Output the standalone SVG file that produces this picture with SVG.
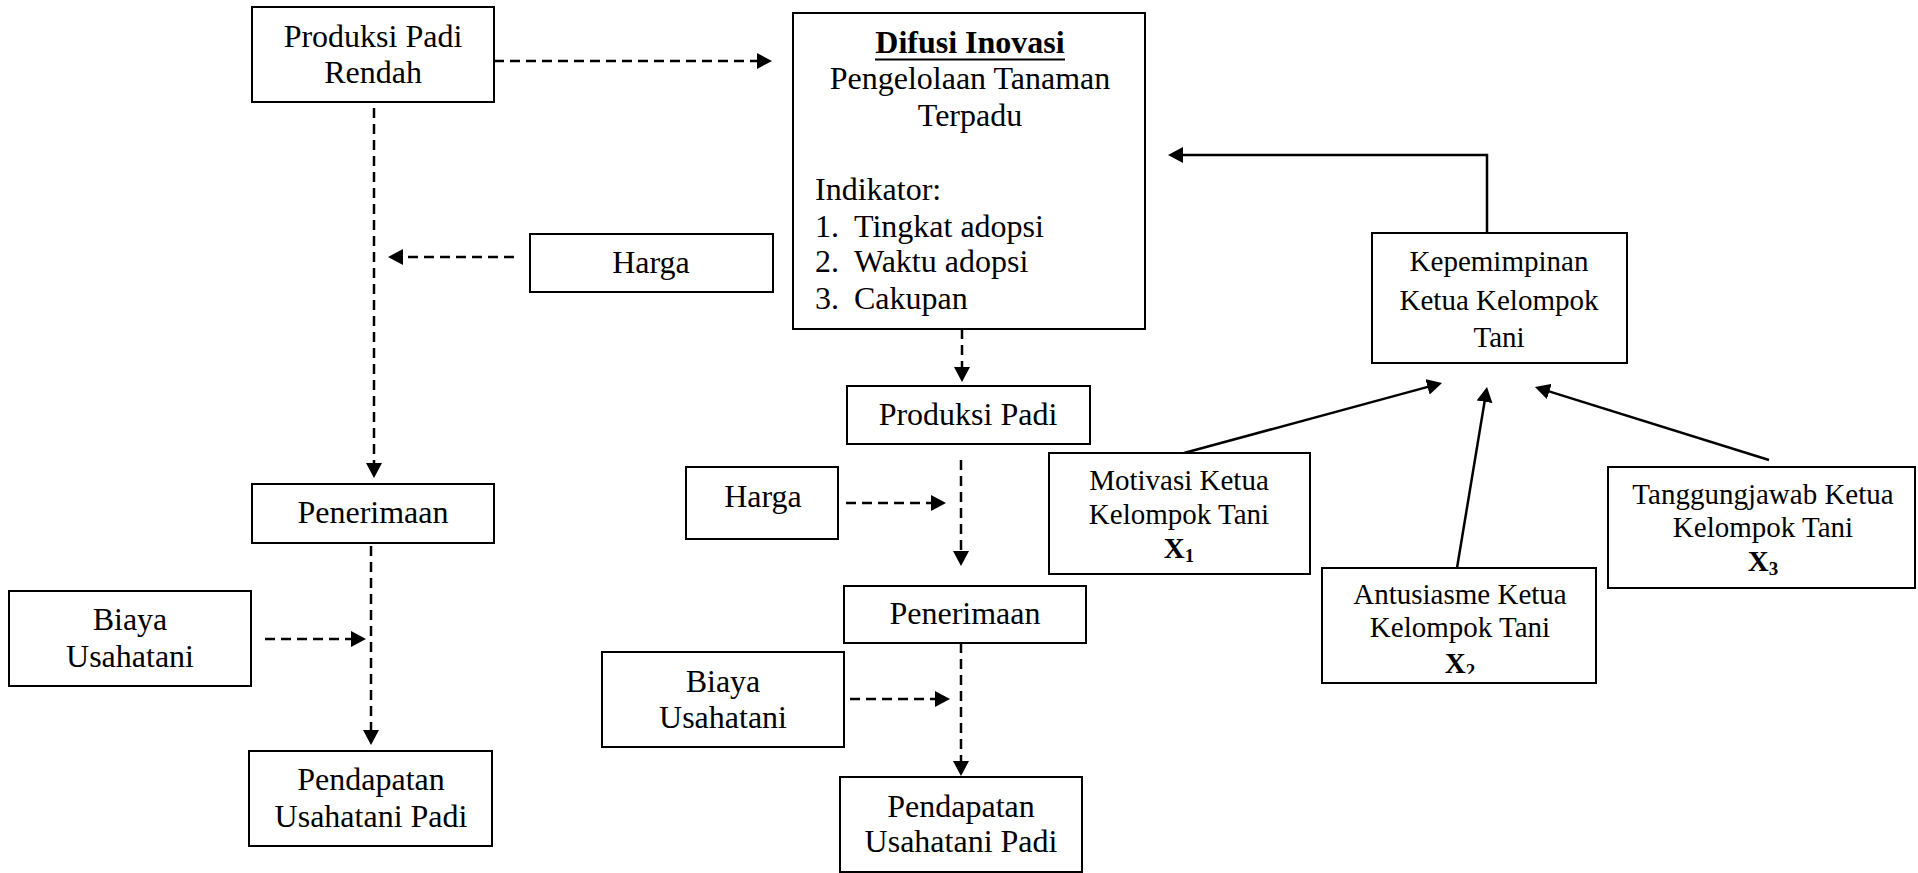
<svg xmlns="http://www.w3.org/2000/svg" width="1918" height="873" viewBox="0 0 1918 873">
  <style>
    .box { fill: #ffffff; stroke: #000000; stroke-width: 2; }
    .t { font-family: "Liberation Serif", "Times New Roman", serif; fill: #000000; }
    .l { font-size: 32px; text-anchor: middle; }
    .s { font-size: 29px; text-anchor: middle; }
    .list { font-size: 32px; }
    .dash { fill: none; stroke: #000000; stroke-width: 2.5; stroke-dasharray: 10 6; }
    .solid { fill: none; stroke: #000000; stroke-width: 2.5; }
    .b { font-weight: bold; }
  </style>
  <defs>
    <marker id="arrow" viewBox="0 0 15 16" refX="7" refY="8" markerWidth="15" markerHeight="16" orient="auto" markerUnits="userSpaceOnUse">
      <path d="M0,0 L15,8 L0,16 Z" fill="#000000"/>
    </marker>
    <clipPath id="clipX2">
      <rect x="1322" y="568" width="274" height="106"/>
    </clipPath>
  </defs>
  <rect x="0" y="0" width="1918" height="873" fill="#ffffff"/>

  <g id="connectors">
    <path class="dash" d="M494,61 H764" marker-end="url(#arrow)"/>
    <path class="dash" d="M374,108 V470" marker-end="url(#arrow)"/>
    <path class="dash" d="M514,257 H396" marker-end="url(#arrow)"/>
    <path class="dash" d="M371,546 V737" marker-end="url(#arrow)"/>
    <path class="dash" d="M265,639 H358" marker-end="url(#arrow)"/>
    <path class="dash" d="M962,329 V374" marker-end="url(#arrow)"/>
    <path class="dash" d="M961,460 V558" marker-end="url(#arrow)"/>
    <path class="dash" d="M846,503 H938" marker-end="url(#arrow)"/>
    <path class="dash" d="M961,643 V768" marker-end="url(#arrow)"/>
    <path class="dash" d="M850,699 H942" marker-end="url(#arrow)"/>
    <path class="solid" d="M1487,233 V155 H1176" marker-end="url(#arrow)"/>
    <path class="solid" d="M1184,453 L1434.3,385.1" marker-end="url(#arrow)"/>
    <path class="solid" d="M1457,568 L1485.7,394.9" marker-end="url(#arrow)"/>
    <path class="solid" d="M1769,460 L1542.6,389.4" marker-end="url(#arrow)"/>
  </g>

  <g id="produksi-padi-rendah">
    <rect class="box" x="252" y="7" width="242" height="95"/>
    <text class="t l" x="373" y="47">Produksi Padi</text>
    <text class="t l" x="373" y="83">Rendah</text>
  </g>

  <g id="harga-kiri">
    <rect class="box" x="530" y="234" width="243" height="58"/>
    <text class="t l" x="651" y="273">Harga</text>
  </g>

  <g id="penerimaan-kiri">
    <rect class="box" x="252" y="484" width="242" height="59"/>
    <text class="t l" x="373" y="523">Penerimaan</text>
  </g>

  <g id="biaya-kiri">
    <rect class="box" x="9" y="591" width="242" height="95"/>
    <text class="t l" x="130" y="630">Biaya</text>
    <text class="t l" x="130" y="667">Usahatani</text>
  </g>

  <g id="pendapatan-kiri">
    <rect class="box" x="249" y="751" width="243" height="95"/>
    <text class="t l" x="371" y="790">Pendapatan</text>
    <text class="t l" x="371" y="827">Usahatani Padi</text>
  </g>

  <g id="difusi-inovasi">
    <rect class="box" x="793" y="13" width="352" height="316"/>
    <text class="t l b" x="970" y="53">Difusi Inovasi</text>
    <line x1="875" y1="59.5" x2="1065" y2="59.5" stroke="#000000" stroke-width="2"/>
    <text class="t l" x="970" y="89">Pengelolaan Tanaman</text>
    <text class="t l" x="970" y="126">Terpadu</text>
    <text class="t list" x="815" y="200">Indikator:</text>
    <text class="t list" x="815" y="237">1.</text>
    <text class="t list" x="854" y="237">Tingkat adopsi</text>
    <text class="t list" x="815" y="272">2.</text>
    <text class="t list" x="854" y="272">Waktu adopsi</text>
    <text class="t list" x="815" y="309">3.</text>
    <text class="t list" x="854" y="309">Cakupan</text>
  </g>

  <g id="produksi-padi">
    <rect class="box" x="847" y="386" width="243" height="58"/>
    <text class="t l" x="968" y="425">Produksi Padi</text>
  </g>

  <g id="harga-tengah">
    <rect class="box" x="686" y="467" width="152" height="72"/>
    <text class="t l" x="763" y="507">Harga</text>
  </g>

  <g id="penerimaan-tengah">
    <rect class="box" x="844" y="586" width="242" height="57"/>
    <text class="t l" x="965" y="624">Penerimaan</text>
  </g>

  <g id="biaya-tengah">
    <rect class="box" x="602" y="652" width="242" height="95"/>
    <text class="t l" x="723" y="692">Biaya</text>
    <text class="t l" x="723" y="728">Usahatani</text>
  </g>

  <g id="pendapatan-tengah">
    <rect class="box" x="840" y="777" width="242" height="95"/>
    <text class="t l" x="961" y="817">Pendapatan</text>
    <text class="t l" x="961" y="852">Usahatani Padi</text>
  </g>

  <g id="kepemimpinan">
    <rect class="box" x="1372" y="233" width="255" height="130"/>
    <text class="t s" x="1499" y="271">Kepemimpinan</text>
    <text class="t s" x="1499" y="310">Ketua Kelompok</text>
    <text class="t s" x="1499" y="347">Tani</text>
  </g>

  <g id="motivasi">
    <rect class="box" x="1049" y="453" width="261" height="121"/>
    <text class="t s" x="1179" y="490">Motivasi Ketua</text>
    <text class="t s" x="1179" y="524">Kelompok Tani</text>
    <text class="t s b" x="1179" y="558">X<tspan font-size="19" dy="4">1</tspan></text>
  </g>

  <g id="antusiasme">
    <rect class="box" x="1322" y="568" width="274" height="115"/>
    <text class="t s" x="1460" y="604">Antusiasme Ketua</text>
    <text class="t s" x="1460" y="637">Kelompok Tani</text>
    <text class="t s b" x="1460" y="673" clip-path="url(#clipX2)">X<tspan font-size="19" dy="4">2</tspan></text>
  </g>

  <g id="tanggungjawab">
    <rect class="box" x="1608" y="467" width="307" height="121"/>
    <text class="t s" x="1763" y="504">Tanggungjawab Ketua</text>
    <text class="t s" x="1763" y="537">Kelompok Tani</text>
    <text class="t s b" x="1763" y="571">X<tspan font-size="19" dy="4">3</tspan></text>
  </g>
</svg>
